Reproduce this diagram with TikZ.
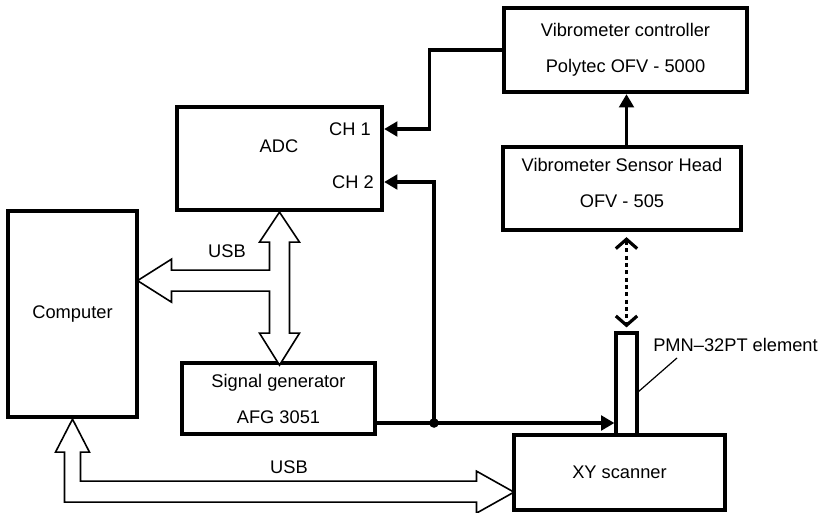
\documentclass[tikz,border=0pt]{standalone}
\usepackage{fontspec}
\setmainfont{Liberation Sans}
\usetikzlibrary{arrows.meta, calc, positioning}

\begin{document}
\begin{tikzpicture}[x=0.75pt, y=-0.75pt,
  box/.style={draw, line width=3.2pt, fill=white, align=center, inner sep=0pt, font=\fontsize{13.7}{27}\selectfont},
  lbl/.style={font=\fontsize{13.7}{16}\selectfont, inner sep=0pt},
  conn/.style={line width=2.4pt, -{Triangle[length=10pt, width=11pt]}},
  hollow/.style={draw, line width=1.2pt, line join=miter, fill=white},
  beam/.style={line width=2.4pt, dash pattern=on 3pt off 2.5pt, {Straight Barb[length=7pt, width=16pt]}-{Straight Barb[length=7pt, width=16pt]}}]

  \useasboundingbox (0,0) rectangle (822,512);

  % blocks
  \node[box, minimum width=182.25pt, minimum height=63pt] (ctrl) at (625.5,50) {Vibrometer controller\\Polytec OFV - 5000};
  \node[box, minimum width=178.5pt, minimum height=62.25pt, text depth=9pt] (head) at (622,188.5) {Vibrometer Sensor Head\\OFV - 505};
  \node[box, minimum width=153.75pt, minimum height=77.25pt] (adc) at (279.5,158.5) {};
  \node[box, minimum width=96.75pt, minimum height=154.5pt] (comp) at (72.5,314) {Computer};
  \node[box, minimum width=144.75pt, minimum height=53.25pt] (sg) at (278.5,398.5) {Signal generator\\AFG 3051};
  \node[box, minimum width=158.25pt, minimum height=56.25pt] (xy) at (619.5,472.5) {XY scanner};
  \node[box, line width=2.4pt, minimum width=15.75pt, minimum height=76.5pt] (pmn) at (626.5,384) {};

  % texts inside ADC and labels
  \node[lbl] (adclbl) at (279,146) {ADC};
  \node[lbl] (ch1) at (350,129) {CH 1};
  \node[lbl] (ch2) at (353,182) {CH 2};
  \node[lbl] (usbtop) at (227,251) {USB};
  \node[lbl] (usbbot) at (289,467) {USB};
  \node[lbl] (pmnlbl) at (735.5,345) {PMN--32PT element};

  % signal wires
  \coordinate (jn) at (434,423);
  \draw[conn] (ctrl.west) -- ++(-72,0) |- (ch1 -| adc.east);
  \draw[conn] (jn) |- (ch2 -| adc.east);
  \draw[conn] (jn -| sg.east) -- (jn -| pmn.west);
  \fill (jn) circle (3.6pt);
  \draw[conn] (pmn.north |- head.north) -- (pmn.north |- ctrl.south);

  % laser beam
  \draw[beam] ($(pmn.north |- head.south)+(0,5)$) -- ($(pmn.north)+(0,-4)$);

  % leader to the element
  \draw[line width=0.9pt] ($(pmnlbl.south west)+(24,6)$) -- ($(pmn.east)+(0,7.5)$);

  % USB between ADC, generator and computer
  \draw[hollow] (adc.south) -- ++(20,30) -- ++(-10,0) -- ++(0,91) -- ++(10,0) -- ++(-20,32)
    -- ++(-20,-32) -- ++(10,0) -- ++(0,-42) -- ++(-98,0) -- ++(0,11) -- ++(-34,-21.5)
    -- ++(34,-21.5) -- ++(0,11) -- ++(98,0) -- ++(0,-28) -- ++(-10,0) -- cycle;

  % USB between computer and scanner
  \draw[hollow] (comp.south) -- ++(17,33) -- ++(-9,0) -- ++(0,29) -- ++(396,0) -- ++(0,-10)
    -- ++(37.5,21) -- ++(-37.5,21) -- ++(0,-11) -- ++(-412,0) -- ++(0,-50) -- ++(-9,0) -- cycle;
\end{tikzpicture}
\end{document}
